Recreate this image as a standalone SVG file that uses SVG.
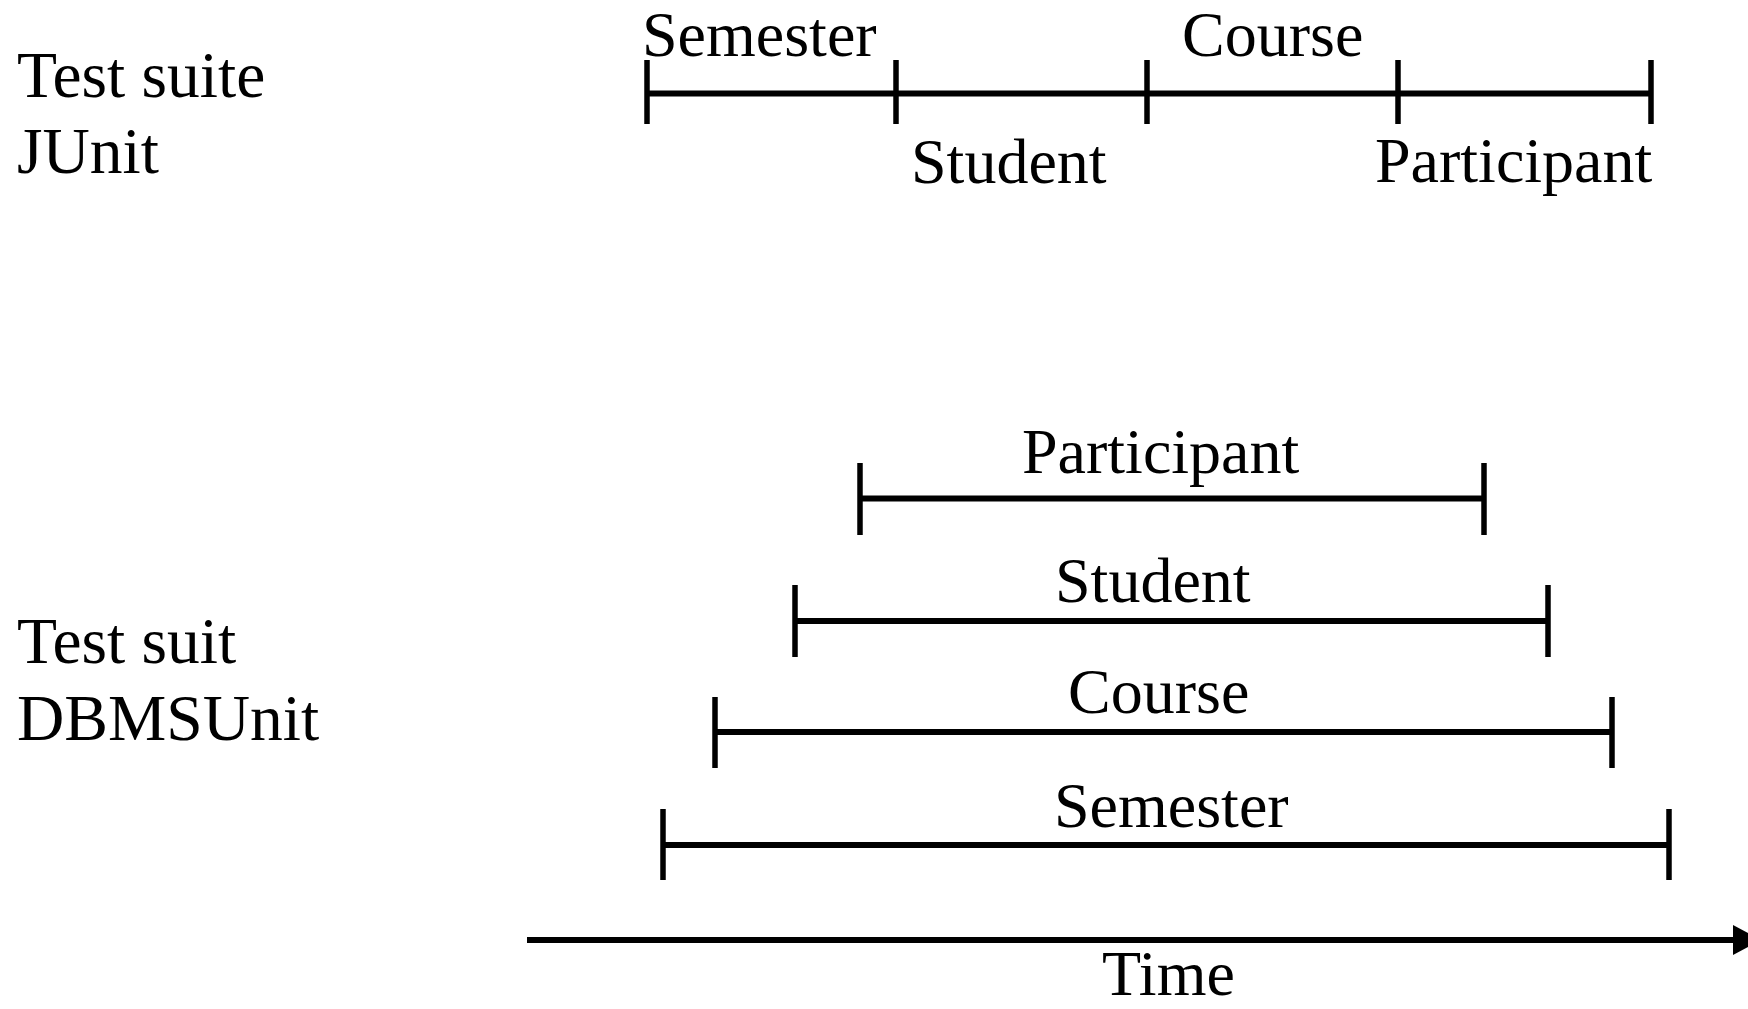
<svg xmlns="http://www.w3.org/2000/svg" width="1748" height="1009" viewBox="0 0 1748 1009">
  <style>
    text { font-family: "Liberation Serif", "Times New Roman", serif; font-size: 64px; fill: #000; }
    .side { font-size: 65.5px; }
    .bar { stroke: #000; stroke-width: 6; fill: none; }
    .tick { stroke: #000; stroke-width: 5.5; fill: none; }
  </style>
  <rect width="1748" height="1009" fill="#fff"/>

  <!-- suite labels -->
  <g id="label-junit">
    <text class="side" x="17" y="97">Test suite</text>
    <text class="side" x="17" y="173">JUnit</text>
  </g>
  <g id="label-dbmsunit">
    <text class="side" x="17" y="663">Test suit</text>
    <text class="side" x="17" y="740">DBMSUnit</text>
  </g>

  <!-- JUnit: sequential segments -->
  <g id="junit-timeline">
    <line class="bar" x1="647" y1="93.5" x2="1651" y2="93.5"/>
    <line class="tick" x1="647" y1="60" x2="647" y2="124"/>
    <line class="tick" x1="896" y1="60" x2="896" y2="124"/>
    <line class="tick" x1="1147" y1="60" x2="1147" y2="124"/>
    <line class="tick" x1="1398" y1="60" x2="1398" y2="124"/>
    <line class="tick" x1="1651" y1="60" x2="1651" y2="124"/>
  </g>
  <g id="junit-semester"><text x="642" y="56">Semester</text></g>
  <g id="junit-student"><text x="911" y="183">Student</text></g>
  <g id="junit-course"><text x="1182" y="56">Course</text></g>
  <g id="junit-participant"><text x="1375" y="182">Participant</text></g>

  <!-- DBMSUnit: nested spans -->
  <g id="dbms-participant">
    <line class="bar" x1="860" y1="498.5" x2="1484" y2="498.5"/>
    <line class="tick" x1="860" y1="463" x2="860" y2="535"/>
    <line class="tick" x1="1484" y1="463" x2="1484" y2="535"/>
    <text x="1022" y="473">Participant</text>
  </g>
  <g id="dbms-student">
    <line class="bar" x1="795" y1="621" x2="1548" y2="621"/>
    <line class="tick" x1="795" y1="585" x2="795" y2="657"/>
    <line class="tick" x1="1548" y1="585" x2="1548" y2="657"/>
    <text x="1055" y="602">Student</text>
  </g>
  <g id="dbms-course">
    <line class="bar" x1="715" y1="732" x2="1612" y2="732"/>
    <line class="tick" x1="715" y1="697" x2="715" y2="768"/>
    <line class="tick" x1="1612" y1="697" x2="1612" y2="768"/>
    <text x="1068" y="713">Course</text>
  </g>
  <g id="dbms-semester">
    <line class="bar" x1="663" y1="845" x2="1669" y2="845"/>
    <line class="tick" x1="663" y1="809" x2="663" y2="880"/>
    <line class="tick" x1="1669" y1="809" x2="1669" y2="880"/>
    <text x="1054" y="827">Semester</text>
  </g>

  <!-- time axis -->
  <g id="connectors">
    <line class="bar" x1="527" y1="940" x2="1736" y2="940"/>
    <polygon points="1733,925 1761,940 1733,955" fill="#000"/>
  </g>
  <g id="time-label"><text x="1102" y="995">Time</text></g>
</svg>
